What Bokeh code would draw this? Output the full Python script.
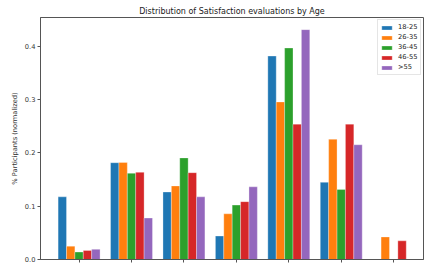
from bokeh.plotting import figure
from bokeh.models import Range1d, FixedTicker, Legend, LegendItem, ColumnDataSource
from bokeh.embed import file_html
from bokeh.resources import INLINE

groups = [0, 1, 2, 3, 4, 5, 6]
series_names = ["18-25", "26-35", "36-45", "46-55", ">55"]
colors = ["#1f77b4", "#ff7f0e", "#2ca02c", "#d62728", "#9467bd"]
v_18_25 = [0.1175, 0.1815, 0.1266, 0.0440, 0.3816, 0.1447, 0.0]
v_26_35 = [0.0250, 0.1820, 0.1380, 0.0857, 0.2955, 0.2255, 0.0423]
v_36_45 = [0.0140, 0.1617, 0.1906, 0.1020, 0.3967, 0.1315, 0.0]
v_46_55 = [0.0170, 0.1635, 0.1628, 0.1085, 0.2539, 0.2539, 0.0350]
v_55 = [0.0190, 0.0778, 0.1175, 0.1363, 0.4311, 0.2152, 0.0]
series = [v_18_25, v_26_35, v_36_45, v_46_55, v_55]
y_ticks = [0.0, 0.1, 0.2, 0.3, 0.4]

FONT = "DejaVu Sans"
AX = "#555555"

W, H = 424, 263
BL, BR, BT, BB = 40, 1, 17, 4
PX_PER_UNIT = 52.43
x0 = -0.736
FW = W - BL - BR

p = figure(width=W, height=H, output_backend="svg", toolbar_location=None,
           title="Distribution of Satisfaction evaluations by Age",
           x_range=Range1d(x0, x0 + FW / PX_PER_UNIT), y_range=Range1d(0, 0.4539),
           min_border_left=BL, min_border_right=BR, min_border_top=BT, min_border_bottom=BB)
p.title.text_font = FONT
p.title.text_font_size = "8px"
p.title.text_font_style = "normal"
p.title.text_color = "#222222"
p.title.align = "center"
p.title.standoff = 3
p.title.offset = 0
p.xgrid.visible = False
p.ygrid.visible = False
p.outline_line_color = AX
p.outline_line_width = 1
p.background_fill_color = "white"
p.border_fill_color = "white"

bw = 0.16
items = []
for k, (name, vals, c) in enumerate(zip(series_names, series, colors)):
    off = (k - 2) * bw
    src = ColumnDataSource(dict(x=[g + off for g in groups], top=vals))
    r = p.vbar(x="x", top="top", width=bw, source=src, fill_color=c,
               line_color="white", line_width=0.5, line_alpha=0.6)
    items.append(LegendItem(label=name, renderers=[r]))

legend = Legend(items=items, location="top_right", margin=2, padding=2,
                spacing=0, label_height=10, glyph_height=5, glyph_width=13,
                label_standoff=5, label_text_font=FONT, label_text_font_size="6.7px",
                label_text_color="#222222", border_line_color="#cccccc",
                border_line_width=1, background_fill_alpha=0.8)
p.add_layout(legend, "center")

xa = p.xaxis[0]
xa.ticker = FixedTicker(ticks=groups)
xa.major_label_overrides = {g: "" for g in groups}
xa.major_label_text_font_size = "1px"
xa.major_label_standoff = 0
xa.major_tick_out = 3
xa.major_tick_in = 0
xa.minor_tick_line_color = None
xa.axis_line_color = AX
xa.major_tick_line_color = AX

ya = p.yaxis[0]
ya.ticker = FixedTicker(ticks=y_ticks)
ya.major_label_overrides = {t: f"{t:.1f}" for t in y_ticks}
ya.major_label_text_font = FONT
ya.major_label_text_font_size = "6.7px"
ya.major_label_text_color = "#333333"
ya.major_label_standoff = 2
ya.major_tick_out = 3
ya.major_tick_in = 0
ya.minor_tick_line_color = None
ya.axis_line_color = AX
ya.major_tick_line_color = AX
ya.axis_label = "% Participants (normalized)"
ya.axis_label_text_font = FONT
ya.axis_label_text_font_size = "6.7px"
ya.axis_label_text_font_style = "normal"
ya.axis_label_text_color = "#333333"
ya.axis_label_standoff = 3

open("out.html", "w").write(file_html(p, INLINE))
